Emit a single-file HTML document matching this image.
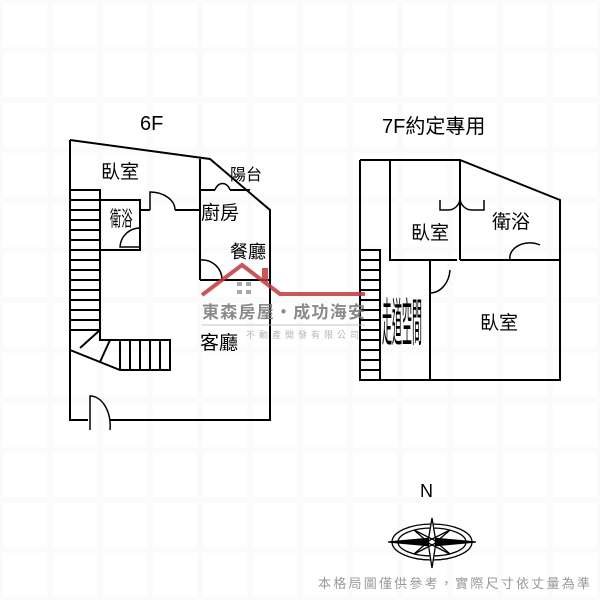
<!DOCTYPE html>
<html><head><meta charset="utf-8"><style>
body{margin:0;background:#fff}
svg{display:block}
text{font-family:"Liberation Sans","Noto Sans CJK TC",sans-serif}
</style></head><body>
<svg width="600" height="600" viewBox="0 0 600 600" xmlns="http://www.w3.org/2000/svg">
<defs>
<pattern id="g" width="50" height="50" patternUnits="userSpaceOnUse">
<rect width="50" height="50" fill="#fbfbfb"/>
<rect x="3" y="3" width="44" height="44" fill="#fff"/>
</pattern>
</defs>
<rect width="600" height="600" fill="url(#g)"/>
<g fill="none" stroke="#000" stroke-width="2">
<polyline points="70,140 210,159 270,210 270,420 110,420"/>
<polyline points="88,420 70,420 70,140"/>
<line x1="200" y1="159" x2="200" y2="280"/>
<line x1="200" y1="280" x2="270" y2="280"/>
<line x1="200" y1="190" x2="215" y2="190"/>
<line x1="230" y1="190" x2="250" y2="190"/>
<polyline points="100,200 140,200 140,250 100,250"/>
<line x1="140" y1="210" x2="150" y2="210"/>
<line x1="175" y1="210" x2="200" y2="210"/>
<polyline points="70,190 100,190 100,340 170,340 170,370 120,370 70,350"/>
<line x1="70" y1="200" x2="100" y2="200"/><line x1="70" y1="210" x2="100" y2="210"/>
<line x1="70" y1="220" x2="100" y2="220"/><line x1="70" y1="230" x2="100" y2="230"/>
<line x1="70" y1="240" x2="100" y2="240"/><line x1="70" y1="250" x2="100" y2="250"/>
<line x1="70" y1="260" x2="100" y2="260"/><line x1="70" y1="270" x2="100" y2="270"/>
<line x1="70" y1="280" x2="100" y2="280"/><line x1="70" y1="290" x2="100" y2="290"/>
<line x1="70" y1="300" x2="100" y2="300"/><line x1="70" y1="310" x2="100" y2="310"/>
<line x1="70" y1="320" x2="100" y2="320"/><line x1="70" y1="330" x2="100" y2="330"/>
<line x1="120" y1="340" x2="120" y2="370"/><line x1="130" y1="340" x2="130" y2="370"/>
<line x1="140" y1="340" x2="140" y2="370"/><line x1="150" y1="340" x2="150" y2="370"/>
<line x1="160" y1="340" x2="160" y2="370"/>
<line x1="100" y1="330" x2="80" y2="348"/><line x1="110" y1="340" x2="100" y2="362"/>
<path d="M150,210 V192 A25,18 0 0 1 175,210" stroke-width="1.5"/>
<path d="M140,247 H120 A20,20 0 0 1 140,228" stroke-width="1.5"/>
<path d="M215,190 A8,10 0 0 1 230,190" stroke-width="1.5"/>
<path d="M200,260 A20,20 0 0 1 222,280" stroke-width="1.5"/>
<path d="M90,430 V396 A20,30 0 0 1 110,430" stroke-width="1.5"/>
<polyline points="360,160 460,160 560,200 560,380 360,380 360,160"/>
<polyline points="390,160 390,260 457,260"/>
<line x1="460" y1="160" x2="460" y2="260"/>
<line x1="460" y1="260" x2="560" y2="260"/>
<polyline points="360,250 380,250 380,380"/>
<line x1="430" y1="260" x2="430" y2="380"/>
<line x1="360" y1="260" x2="380" y2="260"/><line x1="360" y1="270" x2="380" y2="270"/>
<line x1="360" y1="280" x2="380" y2="280"/><line x1="360" y1="290" x2="380" y2="290"/>
<line x1="360" y1="300" x2="380" y2="300"/><line x1="360" y1="310" x2="380" y2="310"/>
<line x1="360" y1="320" x2="380" y2="320"/><line x1="360" y1="330" x2="380" y2="330"/>
<line x1="360" y1="340" x2="380" y2="340"/><line x1="360" y1="350" x2="380" y2="350"/>
<line x1="360" y1="360" x2="380" y2="360"/><line x1="360" y1="370" x2="380" y2="370"/>
<path d="M440,200 V210 H448 A12,12 0 0 0 460,198 A12,12 0 0 0 472,210 H484 V200" stroke-width="1.5"/>
<path d="M430,270 V293 A20,25 0 0 0 450,270" stroke-width="1.5"/>
<path d="M540,260 H510 A20,15 0 0 1 540,245" stroke-width="1.5"/>
</g>
<g stroke="#000" fill="none" stroke-width="1.3">
<ellipse cx="432" cy="542" rx="40" ry="18"/>
<ellipse cx="432" cy="542" rx="34" ry="14"/>
<path d="M388,542 L432,538 L476,542 L432,546 Z" fill="#000"/>
<path d="M432,518 L436,542 L432,568 L428,542 Z" fill="#fff"/>
<path d="M414,530 L434,540 L450,554 L430,544 Z"/>
<path d="M450,530 L434,544 L414,554 L430,540 Z"/>
</g>
<g font-size="19" fill="#000">
<text x="140" y="130" font-size="20">6F</text>
<text x="382" y="133" font-size="20">7F約定專用</text>
<text x="101" y="178">臥室</text>
<text transform="translate(110,226) scale(0.75,1.4)" font-size="15">衛浴</text>
<text x="230" y="180" font-size="16">陽台</text>
<text x="201" y="219">廚房</text>
<text x="230" y="258" font-size="18">餐廳</text>
<text x="200" y="349">客廳</text>
<text x="411" y="239">臥室</text>
<text x="492" y="228">衛浴</text>
<text x="480" y="329">臥室</text>
<text transform="translate(382,341) scale(0.5,2.6)" font-size="20">走道空間</text>
<text x="420" y="497" font-size="18">N</text>
</g>
<g opacity="0.85">
<polyline points="202,295 242,265 280,294 365,294" fill="none" stroke="#c0393b" stroke-width="4"/>
<rect x="262" y="268" width="6" height="14" fill="#c0393b"/>
<g fill="#999"><rect x="237" y="282" width="5" height="4"/><rect x="246" y="282" width="5" height="4"/><rect x="237" y="290" width="5" height="4"/><rect x="246" y="290" width="5" height="4"/></g>
<text x="202" y="318" font-size="17" font-weight="bold" fill="#777" textLength="163">東森房屋・成功海安</text>
<line x1="202" y1="325" x2="365" y2="325" stroke="#bbb" stroke-width="1"/>
<text x="246" y="338" font-size="9" fill="#aaa" letter-spacing="4">不動產開發有限公司</text>
</g>
<text x="318" y="588" font-size="13" fill="#999" textLength="272">本格局圖僅供參考，實際尺寸依丈量為準</text>
</svg>
</body></html>
